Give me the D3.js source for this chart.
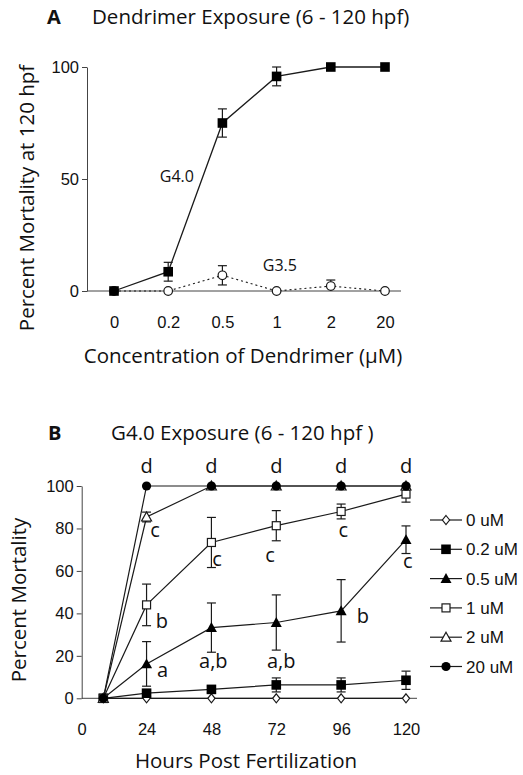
<!DOCTYPE html>
<html>
<head>
<meta charset="utf-8">
<script src="https://cdn.jsdelivr.net/npm/d3@7"></script>
<style>
  html, body { margin: 0; padding: 0; background: #fff; }
  svg { display: block; }
  .myr { font-family: "Open Sans", "Noto Sans", sans-serif; fill: #111; }
  .ari { font-family: "Liberation Sans", Arial, sans-serif; fill: #111; }
</style>
</head>
<body>
<script>
// ---------- Panel A data ----------
const concCategories = ["0", "0.2", "0.5", "1", "2", "20"];
const g40Values = [0, 8.6, 75, 95.8, 100, 100];
const g40Errors = [0, 4.2, 6.3, 4.2, 0, 0];
const g35Values = [0, 0, 7, 0, 2.2, 0];
const g35Errors = [0, 0, 4.3, 0, 2.7, 0];
const aYTicks = [0, 50, 100];

// ---------- Panel B data ----------
const hours = [8, 24, 48, 72, 96, 120];
const bXTicks = [0, 24, 48, 72, 96, 120];
const bYTicks = [0, 20, 40, 60, 80, 100];
const seriesNames = ["0 uM", "0.2 uM", "0.5 uM", "1 uM", "2 uM", "20 uM"];
const s0Values   = [0, 0, 0, 0, 0, 0];
const s0Errors   = [0, 0, 0, 0, 0, 0];
const s02Values  = [0, 2.4, 4.2, 6.3, 6.3, 8.5];
const s02Errors  = [0, 1.5, 1.5, 3.3, 3.3, 4.3];
const s05Values  = [0, 16.2, 33.3, 35.7, 41.2, 74.7];
const s05Errors  = [0, 10.5, 11.6, 13, 14.7, 6.5];
const s1Values   = [0, 44, 73.4, 81.3, 88, 96.2];
const s1Errors   = [0, 9.8, 11.8, 7.1, 3.5, 3.8];
const s2Values   = [0, 85.4, 100, 100, 100, 100];
const s2Errors   = [0, 2.3, 0, 0, 0, 0];
const s20Values  = [0, 100, 100, 100, 100, 100];
const s20Errors  = [0, 0, 0, 0, 0, 0];

// significance letters (hour, percent at baseline, text)
const letterHours  = [24, 48, 72, 96, 120, 27.1, 50.1, 69.7, 96.8, 120.7, 29.7, 29.9, 48.7, 73.8, 104];
const letterValues = [106.3, 106.3, 106.3, 106.3, 106.3, 76.2, 62.4, 64, 76.2, 61.5, 33, 9.9, 14.2, 14.2, 35.7];
const letterTexts  = ["d", "d", "d", "d", "d", "c", "c", "c", "c", "c", "b", "a", "a,b", "a,b", "b"];

const W = 523, H = 775;
const ink = "#1a1a1a";
const axisInk = "#444";
const titleSize = "20.5px";

const svg = d3.select("body").append("svg").attr("width", W).attr("height", H);

// ================= PANEL A =================
const xA = d3.scaleLinear().domain([0, concCategories.length - 1]).range([114, 385]);
const yA = d3.scaleLinear().domain([0, 100]).range([291, 67]);
const gA = svg.append("g");

gA.append("line").attr("x1", xA(0) - 27).attr("x2", xA(5) + 16)
  .attr("y1", yA(0)).attr("y2", yA(0)).attr("stroke", axisInk).attr("stroke-width", 1);
const axA = gA.append("g").attr("transform", `translate(0,${yA(0)})`)
  .call(d3.axisBottom(xA).tickValues(d3.range(concCategories.length))
        .tickFormat(i => concCategories[i]).tickSize(0).tickPadding(25));
axA.select(".domain").remove();
axA.selectAll("text").attr("class", "ari").style("font-size", "16.5px").attr("fill", ink);

const ayA = gA.append("g").attr("transform", `translate(${xA(0) - 27},0)`)
  .call(d3.axisLeft(yA).tickValues(aYTicks).tickSize(5).tickSizeOuter(0).tickPadding(3));
ayA.select(".domain").attr("stroke", axisInk);
ayA.selectAll(".tick line").attr("stroke", axisInk);
ayA.selectAll("text").attr("class", "ari").style("font-size", "16.5px").attr("fill", ink);

const lineA = (vals) => d3.line().x((d, i) => xA(i)).y(d => yA(d))(vals);
gA.append("path").attr("d", lineA(g35Values)).attr("fill", "none")
  .attr("stroke", ink).attr("stroke-width", 1.1).attr("stroke-dasharray", "2,3");
gA.append("path").attr("d", lineA(g40Values)).attr("fill", "none")
  .attr("stroke", ink).attr("stroke-width", 1.3);

function errBars(g, xs, vals, errs, x, y, cap) {
  vals.forEach((v, i) => {
    const e = errs[i];
    if (!e) return;
    const cx = x(xs[i]);
    const lo = Math.max(0, v - e), hi = v + e;
    g.append("line").attr("x1", cx).attr("x2", cx).attr("y1", y(lo)).attr("y2", y(hi))
      .attr("stroke", ink).attr("stroke-width", 1.2);
    [hi, v - e >= 0 ? lo : null].forEach(t => {
      if (t === null) return;
      g.append("line").attr("x1", cx - cap).attr("x2", cx + cap).attr("y1", y(t)).attr("y2", y(t))
        .attr("stroke", ink).attr("stroke-width", 1.2);
    });
  });
}
const idx = d3.range(concCategories.length);
errBars(gA, idx, g35Values, g35Errors, xA, yA, 4.5);
errBars(gA, idx, g40Values, g40Errors, xA, yA, 4.5);

gA.selectAll(".g35").data(g35Values).join("circle")
  .attr("cx", (d, i) => xA(i)).attr("cy", d => yA(d)).attr("r", 4.3)
  .attr("fill", "#fff").attr("stroke", ink).attr("stroke-width", 1.2);
gA.selectAll(".g40").data(g40Values).join("rect")
  .attr("x", (d, i) => xA(i) - 4.8).attr("y", d => yA(d) - 4.8)
  .attr("width", 9.6).attr("height", 9.6).attr("fill", "#000");

gA.append("text").attr("class", "myr").attr("x", xA(1.16)).attr("y", yA(48.8))
  .attr("text-anchor", "middle").style("font-size", "16px").text("G4.0");
gA.append("text").attr("class", "myr").attr("x", xA(3.06)).attr("y", yA(9.1))
  .attr("text-anchor", "middle").style("font-size", "16px").text("G3.5");

svg.append("text").attr("class", "myr").attr("x", 47).attr("y", 24)
  .style("font-size", "20px").style("font-weight", "bold").text("A");
svg.append("text").attr("class", "myr").attr("x", 92).attr("y", 24)
  .style("font-size", titleSize).text("Dendrimer Exposure (6 - 120 hpf)");
svg.append("text").attr("class", "myr").attr("x", 243).attr("y", 363)
  .attr("text-anchor", "middle").style("font-size", titleSize).text("Concentration of Dendrimer (\u03bcM)");
svg.append("text").attr("class", "myr")
  .attr("transform", "translate(34,198) rotate(-90)")
  .attr("text-anchor", "middle").style("font-size", titleSize).text("Percent Mortality at 120 hpf");

// ================= PANEL B =================
const xB = d3.scaleLinear().domain([0, 120]).range([81.7, 406]);
const yB = d3.scaleLinear().domain([0, 100]).range([698.3, 486]);
const gB = svg.append("g");

gB.append("line").attr("x1", xB(0)).attr("x2", xB(120) + 11)
  .attr("y1", yB(0)).attr("y2", yB(0)).attr("stroke", axisInk).attr("stroke-width", 1);
const axB = gB.append("g").attr("transform", `translate(0,${yB(0)})`)
  .call(d3.axisBottom(xB).tickValues(bXTicks).tickSize(0).tickPadding(25));
axB.select(".domain").remove();
axB.selectAll("text").attr("class", "ari").style("font-size", "16.5px").attr("fill", ink);

const ayB = gB.append("g").attr("transform", `translate(${xB(0)},0)`)
  .call(d3.axisLeft(yB).tickValues(bYTicks).tickSize(5).tickSizeOuter(0).tickPadding(3));
ayB.select(".domain").attr("stroke", axisInk);
ayB.selectAll(".tick line").attr("stroke", axisInk);
ayB.selectAll("text").attr("class", "ari").style("font-size", "16.5px").attr("fill", ink);

const seriesValues = [s0Values, s02Values, s05Values, s1Values, s2Values, s20Values];
const seriesErrors = [s0Errors, s02Errors, s05Errors, s1Errors, s2Errors, s20Errors];

const lineB = d3.line().x((d, i) => xB(hours[i])).y(d => yB(d));
seriesValues.forEach(vals => {
  gB.append("path").attr("d", lineB(vals)).attr("fill", "none")
    .attr("stroke", ink).attr("stroke-width", 1.2);
});
seriesValues.forEach((vals, k) => errBars(gB, hours, vals, seriesErrors[k], xB, yB, 4.5));

function marker(g, type, cx, cy) {
  const sw = 1.2;
  if (type === 0) {
    const r = 4.5;
    g.append("path").attr("d", `M${cx},${cy - r}L${cx + r * 0.8},${cy}L${cx},${cy + r}L${cx - r * 0.8},${cy}Z`)
      .attr("fill", "#fff").attr("stroke", ink).attr("stroke-width", sw);
  } else if (type === 1) {
    g.append("rect").attr("x", cx - 4.8).attr("y", cy - 4.8).attr("width", 9.6).attr("height", 9.6).attr("fill", "#000");
  } else if (type === 2) {
    const r = 5.5;
    g.append("path").attr("d", `M${cx},${cy - r}L${cx + r},${cy + r * 0.8}L${cx - r},${cy + r * 0.8}Z`).attr("fill", "#000");
  } else if (type === 3) {
    g.append("rect").attr("x", cx - 4).attr("y", cy - 4).attr("width", 8).attr("height", 8)
      .attr("fill", "#fff").attr("stroke", ink).attr("stroke-width", sw);
  } else if (type === 4) {
    const r = 5;
    g.append("path").attr("d", `M${cx},${cy - r}L${cx + r},${cy + r * 0.8}L${cx - r},${cy + r * 0.8}Z`)
      .attr("fill", "#fff").attr("stroke", ink).attr("stroke-width", sw);
  } else {
    g.append("circle").attr("cx", cx).attr("cy", cy).attr("r", 4.6).attr("fill", "#000");
  }
}
seriesValues.forEach((vals, k) => {
  vals.forEach((v, i) => marker(gB, k, xB(hours[i]), yB(v)));
});

letterTexts.forEach((t, i) => {
  gB.append("text").attr("class", "myr").attr("x", xB(letterHours[i])).attr("y", yB(letterValues[i]))
    .attr("text-anchor", "middle").style("font-size", "20px").text(t);
});

const legY0 = 520, legStep = 29.3;
seriesNames.forEach((name, k) => {
  const y = legY0 + k * legStep;
  gB.append("line").attr("x1", 430).attr("x2", 462).attr("y1", y).attr("y2", y)
    .attr("stroke", ink).attr("stroke-width", 1.2);
  marker(gB, k, 446, y);
  gB.append("text").attr("class", "ari").attr("x", 466).attr("y", y + 6)
    .style("font-size", "17px").text(name);
});

svg.append("text").attr("class", "myr").attr("x", 48).attr("y", 440)
  .style("font-size", "20px").style("font-weight", "bold").text("B");
svg.append("text").attr("class", "myr").attr("x", 111).attr("y", 440)
  .style("font-size", titleSize).text("G4.0 Exposure (6 - 120 hpf )");
svg.append("text").attr("class", "myr").attr("x", 246).attr("y", 768)
  .attr("text-anchor", "middle").style("font-size", titleSize).text("Hours Post Fertilization");
svg.append("text").attr("class", "myr")
  .attr("transform", "translate(26,600) rotate(-90)")
  .attr("text-anchor", "middle").style("font-size", titleSize).text("Percent Mortality");
</script>
</body>
</html>
